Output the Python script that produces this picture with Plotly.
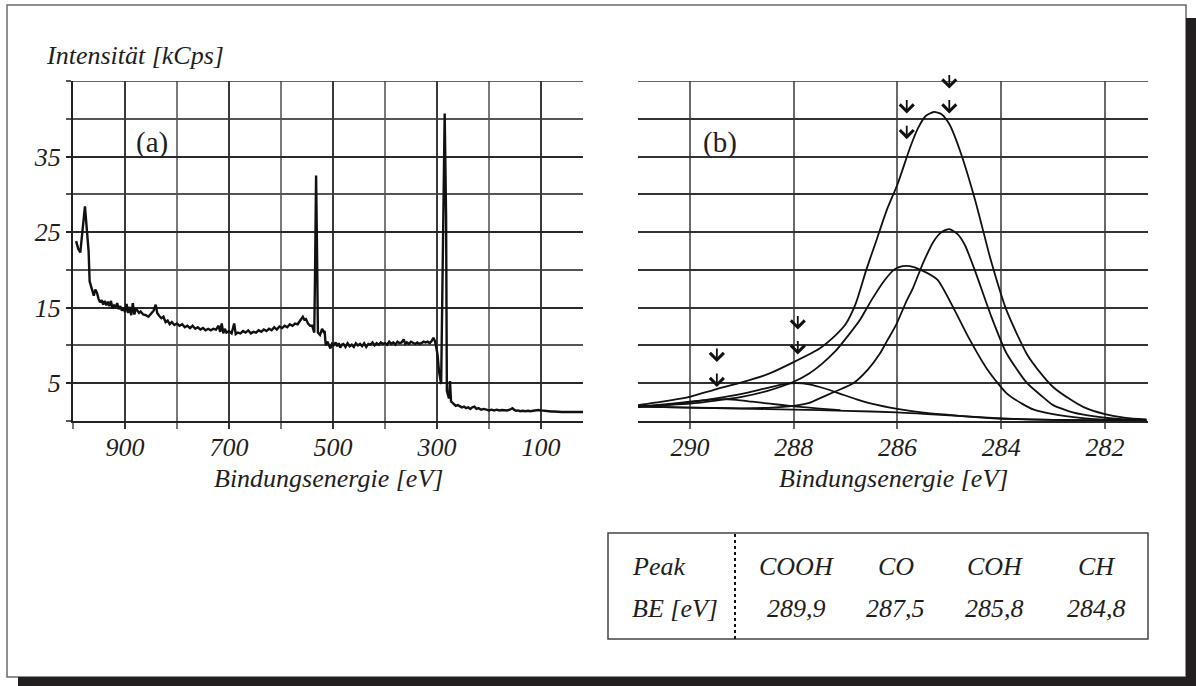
import plotly.graph_objects as go

W, H = 1196, 686

# ---------------- data ----------------
# (a) survey spectrum
survey_be = [994, 990, 986, 981, 977, 973, 970, 968, 966, 963, 960, 957, 954, 951, 948, 945, 942, 939, 936, 933,
             930, 927, 924, 921, 918, 915, 912, 909, 906, 903, 900, 897, 894, 891, 888, 885, 882, 879, 876, 873,
             870, 865, 860, 855, 850, 845, 841, 838, 834, 830, 826, 822, 818, 814, 810, 805, 800, 795, 790, 785,
             780, 775, 770, 765, 760, 755, 750, 745, 740, 735, 730, 725, 720, 717, 714, 711, 708, 705, 700, 695,
             690, 687, 683, 678, 673, 668, 663, 658, 653, 648, 643, 638, 633, 628, 623, 618, 613, 608, 603, 598,
             593, 588, 583, 578, 573, 568, 563, 558, 555, 552, 548, 544, 540, 536, 534.5, 532.5, 531, 529, 525, 521,
             518, 516, 514, 511, 508, 505, 502, 499, 495, 492, 489, 486, 483, 480, 476, 472, 468, 464, 460, 456,
             452, 448, 444, 440, 436, 432, 428, 424, 420, 416, 412, 408, 404, 400, 396, 392, 388, 384, 380, 376,
             372, 368, 364, 361, 358, 354, 350, 346, 342, 338, 334, 330, 326, 322, 318, 314, 310, 307, 304, 302,
             299, 296, 292, 285.2, 282.5, 281, 279, 277, 275, 273, 270, 267, 264, 260, 256, 252, 248, 244, 240,
             236, 232, 228, 224, 220, 215, 210, 205, 200, 195, 190, 185, 180, 175, 170, 165, 160, 155, 152, 148,
             144, 140, 135, 130, 125, 120, 115, 110, 105, 100, 95, 90, 85, 80, 75, 70, 65, 60, 55, 50, 40, 30, 19]
survey_int = [23.8, 22.8, 22.3, 25.5, 28.4, 25.0, 22.5, 18.5, 18.0, 17.2, 16.6, 17.4, 17.0, 16.2, 15.7, 16.0, 15.4, 15.9, 15.3, 15.8,
              15.2, 15.9, 14.9, 15.3, 15.1, 15.6, 14.8, 15.2, 14.6, 15.0, 14.4, 15.5, 14.3, 15.1, 14.0, 15.6, 14.1, 14.9, 14.6, 14.3,
              14.5, 14.1, 14.0, 13.8, 14.2, 14.6, 15.4, 14.3, 13.9, 13.6, 13.8, 13.1, 13.3, 12.8, 13.1, 12.7, 12.9, 12.6, 12.8, 12.4,
              12.6, 12.3, 12.6, 12.2, 12.4, 12.1, 12.3, 12.0, 12.2, 12.0, 12.2, 12.1, 12.6, 11.8, 12.9, 11.6, 12.2, 11.7, 11.9, 11.6,
              12.9, 11.5, 11.7, 11.6, 11.9, 11.7, 12.0, 11.6, 11.8, 11.7, 12.0, 11.8, 12.1, 11.9, 12.2, 12.0, 12.4, 12.1, 12.5, 12.3,
              12.6, 12.4, 12.8, 12.6, 12.9, 12.8, 13.3, 13.8, 13.4, 13.5, 12.9, 12.6, 12.6, 11.7, 19.6, 32.5, 24.3, 11.7, 11.4, 12.2,
              11.8, 11.9, 10.0, 10.5, 10.1, 9.6, 10.2, 10.0, 10.4, 9.9, 10.3, 9.7, 10.1, 10.2, 9.8, 10.3, 9.9, 10.1, 9.8, 10.3,
              10.0, 10.2, 9.9, 10.3, 9.8, 10.2, 10.1, 10.4, 10.0, 10.3, 10.1, 10.4, 10.2, 10.3, 10.1, 10.5, 10.2, 10.4, 10.1, 10.5,
              10.3, 10.4, 10.8, 10.2, 10.4, 10.2, 10.5, 10.3, 10.2, 10.4, 10.2, 10.3, 10.5, 10.4, 10.5, 10.3, 10.6, 11.0, 10.6, 10.0,
              8.8, 6.5, 4.9, 40.7, 27.0, 4.0, 3.4, 3.0, 5.3, 2.6, 2.4, 2.2, 2.0, 2.1, 1.9, 1.8, 1.9, 1.7, 1.8,
              1.6, 1.8, 1.9, 1.6, 1.7, 1.5, 1.6, 1.5, 1.4, 1.5, 1.4, 1.5, 1.4, 1.45, 1.4, 1.4, 1.5, 1.7, 1.5, 1.35,
              1.4, 1.3, 1.35, 1.3, 1.35, 1.3, 1.35, 1.4, 1.45, 1.4, 1.35, 1.3, 1.3, 1.25, 1.25, 1.2, 1.25, 1.2, 1.2, 1.2, 1.2, 1.2, 1.2]

# (b) C1s high-resolution spectrum and fitted components
env_be = [291.0, 290.5, 290.0, 289.5, 289.0, 288.5, 288.0, 287.5, 287.2, 287.0, 286.8, 286.6, 286.4, 286.2, 286.0, 285.75,
          285.6, 285.45, 285.3, 285.15, 285.0, 284.8, 284.5, 284.2, 283.9, 283.5, 283.2, 283.0, 282.7, 282.4, 282.0, 281.6, 281.2]
env_int = [2.1, 2.6, 3.2, 4.2, 5.1, 6.2, 7.8, 9.6, 11.3, 12.8, 15.6, 20.0, 24.0, 28.0, 31.3, 36.3,
           38.8, 40.4, 40.9, 40.6, 39.3, 35.9, 29.2, 21.3, 14.7, 8.8, 6.0, 4.5, 3.0, 1.8, 0.9, 0.4, 0.2]

ch_be = [291.0, 290.0, 289.0, 288.5, 288.0, 287.7, 287.5, 287.2, 286.85, 286.57, 286.34, 286.2, 286.02, 285.83, 285.7, 285.5,
         285.3, 285.15, 285.0, 284.85, 284.7, 284.5, 284.2, 283.9, 283.5, 283.2, 283.0, 282.6, 282.2, 281.8, 281.2]
ch_int = [1.9, 1.78, 1.68, 1.75, 2.0, 2.4, 3.0, 3.9, 5.0, 6.8, 8.9, 10.6, 12.8, 15.8, 17.6, 21.0,
          23.8, 25.0, 25.4, 24.8, 23.3, 19.8, 14.0, 9.0, 5.0, 3.2, 2.1, 1.1, 0.6, 0.3, 0.1]

coh_be = [291.0, 290.5, 290.0, 289.5, 289.0, 288.5, 288.0, 287.7, 287.45, 287.2, 286.95, 286.72, 286.5, 286.25, 286.05, 285.9,
          285.76, 285.55, 285.23, 284.93, 284.64, 284.26, 283.9, 283.6, 283.37, 283.0, 282.6, 282.2, 281.2]
coh_int = [1.9, 2.1, 2.3, 2.7, 3.2, 4.0, 5.2, 6.3, 7.6, 9.2, 11.3, 13.4, 16.0, 18.6, 20.1, 20.5,
           20.5, 20.0, 18.7, 15.1, 11.2, 6.75, 3.7, 2.3, 1.5, 0.9, 0.5, 0.25, 0.1]

co_be = [291.0, 290.5, 290.0, 289.5, 289.0, 288.5, 288.2, 287.95, 287.7, 287.4, 287.1, 286.8, 286.5, 286.0, 285.5, 285.0,
         284.5, 284.0, 283.0, 282.0, 281.2]
co_int = [1.9, 2.1, 2.5, 3.0, 3.6, 4.4, 4.85, 5.0, 4.85, 4.3, 3.6, 2.9, 2.3, 1.6, 1.1, 0.8,
          0.5, 0.3, 0.15, 0.05, 0.0]

cooh_be = [291.0, 290.5, 290.0, 289.7, 289.4, 289.1, 288.8, 288.46, 288.0, 287.5, 287.1]
cooh_int = [1.9, 2.2, 2.55, 2.75, 2.9, 2.8, 2.55, 2.3, 1.95, 1.65, 1.45]

bg_be = [291.0, 290.0, 289.0, 288.0, 287.0, 286.0, 285.5, 285.0, 284.5, 284.0, 283.5, 283.0, 282.0, 281.2]
bg_int = [1.9, 1.78, 1.65, 1.5, 1.35, 1.15, 0.95, 0.75, 0.55, 0.35, 0.22, 0.15, 0.07, 0.03]

# peak-position markers (arrow tips) in panel (b)
arrow_be = [285.0, 285.0, 285.82, 285.82, 287.92, 287.92, 289.48, 289.48]
arrow_int = [44.0, 40.7, 40.7, 37.3, 12.1, 8.8, 7.8, 4.5]

# tick values / labels
a_ticks = [900, 700, 500, 300, 100]
a_minor = [1000, 800, 600, 400, 200]
b_ticks = [290, 288, 286, 284, 282]
y_ticks = [5, 15, 25, 35]
y_minor = [0, 10, 20, 30, 40, 45]
y_all = [0, 5, 10, 15, 20, 25, 30, 35, 40, 45]

# table
table_peaks = ["COOH", "CO", "COH", "CH"]
table_be = ["289,9", "287,5", "285,8", "284,8"]

# ---------------- layout helpers ----------------
def PX(x):
    return x / W

def PY(y):
    return 1 - y / H

SERIF = "Times New Roman, Liberation Serif, serif"
TXT = "#1e1e1e"
LINE = "#111111"

fig = go.Figure()

fig.add_trace(go.Scatter(x=survey_be, y=survey_int, mode="lines", xaxis="x", yaxis="y",
                         line=dict(color=LINE, width=2.4), showlegend=False, hoverinfo="skip"))

for xs, ys in [(bg_be, bg_int), (cooh_be, cooh_int), (co_be, co_int), (coh_be, coh_int),
               (ch_be, ch_int), (env_be, env_int)]:
    fig.add_trace(go.Scatter(x=xs, y=ys, mode="lines", xaxis="x2", yaxis="y2",
                             line=dict(color=LINE, width=1.8, shape="spline", smoothing=0.6),
                             showlegend=False, hoverinfo="skip"))

tickfont = dict(family=SERIF, size=26, color=TXT, style="italic")
ydom = [PY(421), PY(81)]

fig.update_layout(
    width=W, height=H,
    margin=dict(l=0, r=0, t=0, b=0),
    paper_bgcolor="white", plot_bgcolor="white",
    showlegend=False,
    xaxis=dict(domain=[PX(73), PX(583)], range=[1000, 19.2], anchor="y",
               tickvals=a_ticks, ticks="outside", ticklen=6, tickwidth=1.5, tickcolor="#333",
               showgrid=True, gridcolor="#3a3a3a", gridwidth=1.5,
               minor=dict(tickvals=a_minor, ticks="outside", ticklen=6, tickwidth=1.5, tickcolor="#777",
                          showgrid=True, gridcolor="#7a7a7a", gridwidth=1.5),
               showline=True, linecolor="#222", linewidth=2, zeroline=False,
               tickfont=tickfont, ticklabelstandoff=-4),
    yaxis=dict(domain=ydom, range=[0, 45], anchor="x",
               tickvals=y_ticks, ticks="outside", ticklen=5, tickwidth=1.5, tickcolor="#222",
               showgrid=True, gridcolor="#2a2a2a", gridwidth=1.5,
               minor=dict(tickvals=y_minor, ticks="outside", ticklen=5, tickwidth=1.5, tickcolor="#555",
                          showgrid=True, gridcolor="#555", gridwidth=1.5),
               showline=True, linecolor="#222", linewidth=2, zeroline=False,
               tickfont=tickfont),
    xaxis2=dict(domain=[PX(638), PX(1148)], range=[291.0, 281.17], anchor="y2",
                tickvals=b_ticks, ticks="outside", ticklen=6, tickwidth=1.5, tickcolor="#666",
                showgrid=True, gridcolor="#6a6a6a", gridwidth=1.5,
                showline=True, linecolor="#222", linewidth=2, zeroline=False,
                tickfont=tickfont, ticklabelstandoff=-4),
    yaxis2=dict(domain=ydom, range=[0, 45], anchor="x2",
                tickvals=y_all, showticklabels=False, ticks="",
                showgrid=True, gridcolor="#333", gridwidth=1.5,
                showline=False, zeroline=False),
)

shapes = [
    # top border lines of both panels
    dict(type="line", xref="x domain", yref="y", x0=0, x1=1, y0=45, y1=45, line=dict(color="#333", width=1.5)),
    dict(type="line", xref="x2 domain", yref="y2", x0=0, x1=1, y0=45, y1=45, line=dict(color="#333", width=1.5)),
    # outer frame
    dict(type="rect", xref="paper", yref="paper", x0=PX(7), x1=PX(1186), y0=PY(677), y1=PY(5),
         line=dict(color="#6a6a6a", width=1.5), fillcolor="rgba(0,0,0,0)", layer="below"),
    # drop shadow
    dict(type="rect", xref="paper", yref="paper", x0=PX(1186), x1=PX(1196), y0=PY(686), y1=PY(18),
         line=dict(width=0), fillcolor="#231f20"),
    dict(type="rect", xref="paper", yref="paper", x0=PX(18), x1=PX(1196), y0=PY(686), y1=PY(677),
         line=dict(width=0), fillcolor="#231f20"),
    # table box
    dict(type="rect", xref="paper", yref="paper", x0=PX(608), x1=PX(1148), y0=PY(639), y1=PY(533),
         line=dict(color="#444", width=1.5), fillcolor="rgba(0,0,0,0)"),
    dict(type="line", xref="paper", yref="paper", x0=PX(735), x1=PX(735), y0=PY(639), y1=PY(533),
         line=dict(color="#111", width=2, dash="dot")),
]
fig.update_layout(shapes=shapes)

ann = []
itf = dict(family=SERIF, size=26, color=TXT, style="italic")
ann.append(dict(text="Intensität [kCps]", xref="paper", yref="paper", x=PX(44), y=PY(55),
                xanchor="left", yanchor="middle", showarrow=False, font=itf))
for cx in [(73 + 583) / 2, (638 + 1148) / 2]:
    ann.append(dict(text="Bindungsenergie [eV]", xref="paper", yref="paper", x=PX(cx), y=PY(478),
                    xanchor="center", yanchor="middle", showarrow=False, font=itf))
ann.append(dict(text="(a)", xref="paper", yref="paper", x=PX(152), y=PY(142), xanchor="center", yanchor="middle",
                showarrow=False, font=dict(family=SERIF, size=29, color=TXT)))
ann.append(dict(text="(b)", xref="paper", yref="paper", x=PX(720), y=PY(142), xanchor="center", yanchor="middle",
                showarrow=False, font=dict(family=SERIF, size=29, color=TXT)))
for bx, by in zip(arrow_be, arrow_int):
    ann.append(dict(text="", xref="x2", yref="y2", x=bx, y=by, showarrow=True,
                    ax=0, ay=-15, axref="pixel", ayref="pixel",
                    arrowhead=4, arrowsize=1.5, arrowwidth=1.8, arrowcolor="#111", standoff=0))
# table
ann.append(dict(text="Peak", xref="paper", yref="paper", x=PX(630), y=PY(566), xanchor="left", yanchor="middle",
                showarrow=False, font=itf))
ann.append(dict(text="BE [eV]", xref="paper", yref="paper", x=PX(630), y=PY(608), xanchor="left", yanchor="middle",
                showarrow=False, font=itf))
col_centers = [797, 896, 995, 1096]
for cx, name, be in zip(col_centers, table_peaks, table_be):
    ann.append(dict(text=name, xref="paper", yref="paper", x=PX(cx), y=PY(566), xanchor="center", yanchor="middle",
                    showarrow=False, font=itf))
    ann.append(dict(text=be, xref="paper", yref="paper", x=PX(cx), y=PY(608), xanchor="center", yanchor="middle",
                    showarrow=False, font=itf))
fig.update_layout(annotations=ann)

fig.write_html("out.html", config={"displayModeBar": False},
               post_script="document.body.style.margin='0px';document.body.style.padding='0px';")
